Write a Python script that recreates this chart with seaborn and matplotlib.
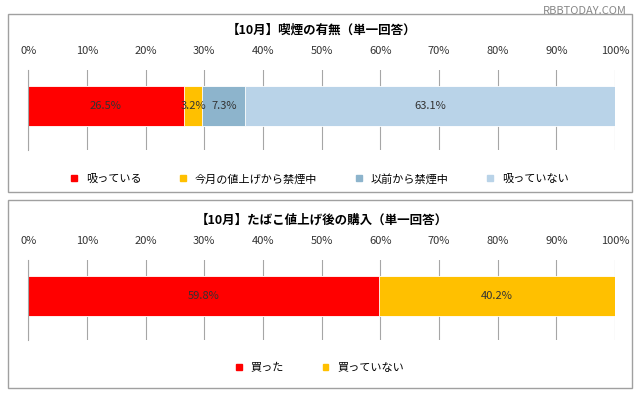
import matplotlib
matplotlib.use("Agg")
import matplotlib.pyplot as plt
import seaborn as sns
import pandas as pd
from matplotlib.patches import Rectangle, Patch

plt.rcParams["font.family"] = "Noto Sans CJK JP"

# data
top_title = "【10月】喫煙の有無（単一回答）"
top_labels = ["吸っている", "今月の値上げから禁煙中", "以前から禁煙中", "吸っていない"]
top_values = [26.5, 3.2, 7.3, 63.1]
top_colors = ["#FF0000", "#FFC000", "#8DB4CC", "#B9D3E8"]

bottom_title = "【10月】たばこ値上げ後の購入（単一回答）"
bottom_labels = ["買った", "買っていない"]
bottom_values = [59.8, 40.2]
bottom_colors = ["#FF0000", "#FFC000"]

ticks = list(range(0, 101, 10))

fig = plt.figure(figsize=(6.4, 4.0), dpi=100)
fig.patch.set_facecolor("white")

# panel borders
for y0, h in [(0.52, 0.445), (0.03, 0.47)]:
    fig.patches.append(Rectangle((0.012, y0), 0.976, h, transform=fig.transFigure,
                                 fill=False, edgecolor="#A0A0A0", lw=1))


def stacked(ax, labels, values, colors, title, legend_y):
    cum = pd.Series(values).cumsum()
    # draw cumulative totals from largest to smallest so each segment shows
    for i in range(len(values) - 1, -1, -1):
        df = pd.DataFrame({"cat": ["a"], "v": [cum[i]]})
        sns.barplot(data=df, x="v", y="cat", color=colors[i], width=0.5,
                    saturation=1, ax=ax, edgecolor="white", linewidth=0.6)
    for i, v in enumerate(values):
        ax.text(cum[i] - v / 2, 0, f"{v}%", ha="center", va="center",
                fontsize=8, color="#333333")
    ax.set_xlim(0, 100)
    ax.set_ylim(0.55, -0.45)
    ax.set_xticks(ticks)
    ax.set_xticklabels([f"{t}%" for t in ticks], fontsize=8, color="#333333")
    ax.xaxis.tick_top()
    ax.tick_params(axis="x", length=0, pad=10)
    ax.set_yticks([])
    ax.set_xlabel("")
    ax.set_ylabel("")
    ax.grid(axis="x", color="#A6A6A6", lw=0.8)
    ax.set_axisbelow(True)
    for s in ax.spines.values():
        s.set_visible(False)
    ax.spines["left"].set_visible(True)
    ax.spines["left"].set_color("#A6A6A6")
    ax.set_title(title, fontsize=9, fontweight="bold", pad=26)
    handles = [Patch(color=c) for c in colors]
    fig.legend(handles, labels, loc="center", bbox_to_anchor=(0.5, legend_y),
               ncol=len(labels), frameon=False, fontsize=8,
               handlelength=0.5, handleheight=0.5, columnspacing=3.5)


ax1 = fig.add_axes([0.044, 0.625, 0.917, 0.2])
stacked(ax1, top_labels, top_values, top_colors, top_title, 0.553)

ax2 = fig.add_axes([0.044, 0.15, 0.917, 0.2])
stacked(ax2, bottom_labels, bottom_values, bottom_colors, bottom_title, 0.08)

fig.text(0.98, 0.985, "RBBTODAY.COM", ha="right", va="top", fontsize=8, color="#888888")

fig.savefig("out.png", dpi=100)
